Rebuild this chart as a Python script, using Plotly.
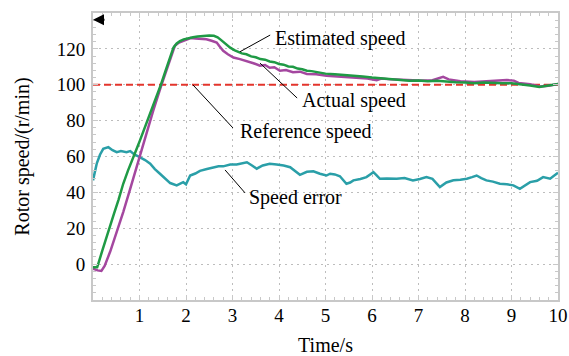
import plotly.graph_objects as go

# ---- data ----
t_est = [0, 0.09, 0.2, 0.3, 0.37, 0.45, 0.55, 0.65, 0.75, 0.85, 0.95, 1.01, 1.1, 1.2, 1.3, 1.4,
         1.46, 1.55, 1.65, 1.73, 1.8, 1.87, 1.95, 2.05, 2.15, 2.25, 2.37, 2.5, 2.6, 2.68, 2.75,
         2.85, 2.95, 3.05, 3.2, 3.3, 3.4, 3.5, 3.6, 3.7, 3.8, 3.9, 4.0, 4.1, 4.2, 4.3, 4.4, 4.5,
         4.6, 4.7, 4.8, 4.9, 5.0, 5.2, 5.4, 5.6, 5.8,
         6.0, 6.2, 6.4, 6.6, 6.8, 7.0, 7.2, 7.4, 7.6, 7.8, 8.0, 8.2, 8.4, 8.6, 8.8, 9.0, 9.2,
         9.4, 9.6, 9.8, 10.0]
v_est = [-1.8, -1.8, 7.5, 16, 22.6, 28, 36, 44.8, 52, 59, 65, 69, 75, 82, 89, 96,
         100, 107, 115, 120.7, 123, 124.4, 125.3, 126, 126.5, 126.9, 127.2, 127.4, 127.3, 126.5, 125,
         122.8, 120.7, 119.2, 117.5, 117.0, 115.8, 115.3, 114.3, 114.0, 113, 112.6, 111.6, 111.2, 110.2, 110.0, 109, 108.6,
         107.8, 107.6, 107, 106.8, 106.2, 105.8, 105.5, 105.1, 104.6,
         104, 103.6, 103.2, 102.6, 102.2, 102.4, 101.9, 102.2, 101.6, 101.4, 101.2, 100.9, 101.3, 101, 100.8, 100.9, 100.4,
         99.6, 98.7, 99.4, 100.4]

t_act = [0, 0.1, 0.18, 0.25, 0.37, 0.5, 0.65, 0.8, 1.01, 1.08, 1.2, 1.3, 1.46, 1.6, 1.7, 1.76,
         1.85, 2.0, 2.1, 2.2, 2.3, 2.44, 2.55, 2.66, 2.72, 2.8, 2.9, 3.02, 3.16, 3.3, 3.45, 3.59,
         3.7, 3.8, 3.9, 4.02, 4.15, 4.3, 4.45, 4.6, 4.8, 5.02, 5.3, 5.67, 5.9, 6.1, 6.2, 6.4, 6.7, 7.0, 7.3, 7.45,
         7.53, 7.65, 7.9, 8.2, 8.5, 8.75, 8.9, 9.05, 9.15, 9.4, 9.6, 9.8, 10.0]
v_act = [-2.5, -3.5, -3.8, -1, 7, 17, 29, 42, 60.5, 67, 78, 86, 99, 110, 117, 121.7,
         123.5, 125, 126, 125.8, 125.5, 125.4, 124.5, 123.5, 121.5, 118.9, 117, 115.2, 114.3, 113.3, 112, 110.6,
         111.0, 109.5, 109.8, 107.8, 108.2, 107, 107.3, 106, 105.8, 105, 104.6, 104, 103.5, 102.6, 103.5, 103, 102.5, 102.3, 102.5, 103.8,
         104.4, 103, 102, 101.5, 101.8, 102.3, 102.6, 102.3, 101, 100.3, 99, 99.5, 100.4]

t_err = [0, 0.08, 0.15, 0.22, 0.33, 0.42, 0.51, 0.6, 0.72, 0.8, 0.87, 1.01, 1.12, 1.23, 1.33, 1.44,
         1.55, 1.66, 1.8, 1.87, 1.94, 2.0, 2.09, 2.2, 2.3, 2.45, 2.58, 2.7, 2.8, 2.95, 3.09, 3.2,
         3.31, 3.42, 3.52, 3.65, 3.8, 3.95, 4.1, 4.24, 4.35, 4.45, 4.6, 4.74, 4.88, 5.02, 5.1, 5.2,
         5.31, 5.38, 5.45, 5.53, 5.6, 5.75, 5.88, 5.96, 6.03, 6.1, 6.17, 6.32, 6.53, 6.7, 6.88, 7.03,
         7.17, 7.3, 7.4, 7.46, 7.6, 7.75, 7.9, 8.04, 8.15, 8.25, 8.35, 8.46, 8.6, 8.75, 8.9, 9.04,
         9.18, 9.3, 9.4, 9.55, 9.68, 9.83, 9.9, 9.97, 10.0]
v_err = [46.7, 56, 61, 64.3, 65.2, 63.5, 62.4, 63, 62.4, 63, 61.5, 59.6, 58, 56, 53, 50.4,
         47.5, 45.2, 43.9, 45, 45.7, 44.5, 49.4, 50.5, 52, 53, 54, 54.5, 54.5, 55.5, 55.5, 56,
         56.8, 55, 53.2, 55, 56, 55.5, 55, 54, 52, 49.8, 51.5, 51.8, 50.4, 49.4, 50.4, 50,
         49, 47, 44.8, 45.5, 46.7, 47.5, 48.5, 50, 51.3, 49.5, 47.6, 47.8, 47.6, 48, 46.7, 47.5,
         48.5, 47.5, 45, 43, 45.5, 46.7, 47, 47.6, 48.5, 49.4, 48, 46.7, 46, 44.8, 44.5, 43.9,
         42, 44, 45.7, 46.5, 48.5, 47.6, 49, 50.4, 51]

ref_t = [0, 10]
ref_v = [100, 100]

x_ticks = [1, 2, 3, 4, 5, 6, 7, 8, 9, 10]
y_ticks = [0, 20, 40, 60, 80, 100, 120]

labels = ["Estimated speed", "Actual speed", "Reference speed", "Speed error"]

GREEN = "#1f9a45"
MAGENTA = "#a4479f"
TEAL = "#2a9fa8"
RED = "#e3352c"
FRAME = "#c8c8c8"
FONT = "Liberation Serif, 'Times New Roman', Times, serif"

fig = go.Figure()
fig.add_trace(go.Scatter(x=t_err, y=v_err, mode="lines", line=dict(color=TEAL, width=2.5),
                         showlegend=False))
fig.add_trace(go.Scatter(x=ref_t, y=ref_v, mode="lines",
                         line=dict(color=RED, width=2.2, dash="7px,4px"), showlegend=False))
fig.add_trace(go.Scatter(x=t_act, y=v_act, mode="lines", line=dict(color=MAGENTA, width=2.5),
                         showlegend=False))
fig.add_trace(go.Scatter(x=t_est, y=v_est, mode="lines", line=dict(color=GREEN, width=2.5),
                         showlegend=False))

# leader lines and labels
leaders = [
    ((3.81, 127.7), (3.16, 118.4), (3.87, 125.9)),
    ((4.39, 92.6), (3.59, 112.1), (4.45, 91.5)),
    ((3.01, 75.9), (2.15, 99.9), (3.12, 74.2)),
    ((3.27, 39.7), (2.84, 52.5), (3.31, 37.4)),
]
for lab, (p0, p1, tp) in zip(labels, leaders):
    fig.add_shape(type="line", xref="x", yref="y", x0=p0[0], y0=p0[1], x1=p1[0], y1=p1[1],
                  line=dict(color="black", width=1))
    fig.add_annotation(x=tp[0], y=tp[1], xref="x", yref="y", text=lab, showarrow=False,
                       xanchor="left", yanchor="middle",
                       font=dict(family=FONT, size=20, color="black"))

# small arrow marker at top-left
fig.add_annotation(x=0, y=136.2, xref="x", yref="y", text="", showarrow=True,
                   ax=13, ay=0, arrowhead=2, arrowsize=1.1, arrowwidth=2, arrowcolor="black",
                   standoff=0)

axis_common = dict(
    showline=True, linecolor=FRAME, linewidth=2, mirror="allticks",
    ticks="inside", ticklen=5, tickcolor=FRAME, tickwidth=1,
    showgrid=True, gridcolor="#bdbdbd", gridwidth=1.3, griddash="2px,4px",
    zeroline=False, automargin=False,
    tickfont=dict(family=FONT, size=19, color="black"),
)

fig.update_xaxes(range=[0, 10], tickvals=x_ticks, ticktext=[str(v) for v in x_ticks],
                 ticklabelstandoff=-3,
                 minor=dict(ticks="inside", ticklen=3, tickcolor=FRAME, dtick=0.2, showgrid=False),
                 title=dict(text="Time/s", font=dict(family=FONT, size=20, color="black"), standoff=20),
                 **axis_common)
fig.update_yaxes(range=[-20, 140], tickvals=y_ticks, ticktext=[str(v) for v in y_ticks],
                 ticklabelstandoff=2,
                 minor=dict(ticks="inside", ticklen=3, tickcolor=FRAME, dtick=4, showgrid=False),
                 title=dict(text="Rotor speed/(r/min)", font=dict(family=FONT, size=20, color="black"),
                            standoff=22),
                 **axis_common)

fig.update_layout(
    width=569, height=356,
    margin=dict(l=93, r=11, t=13, b=56),
    paper_bgcolor="white", plot_bgcolor="white",
    showlegend=False,
)

fig.write_html("out.html")
